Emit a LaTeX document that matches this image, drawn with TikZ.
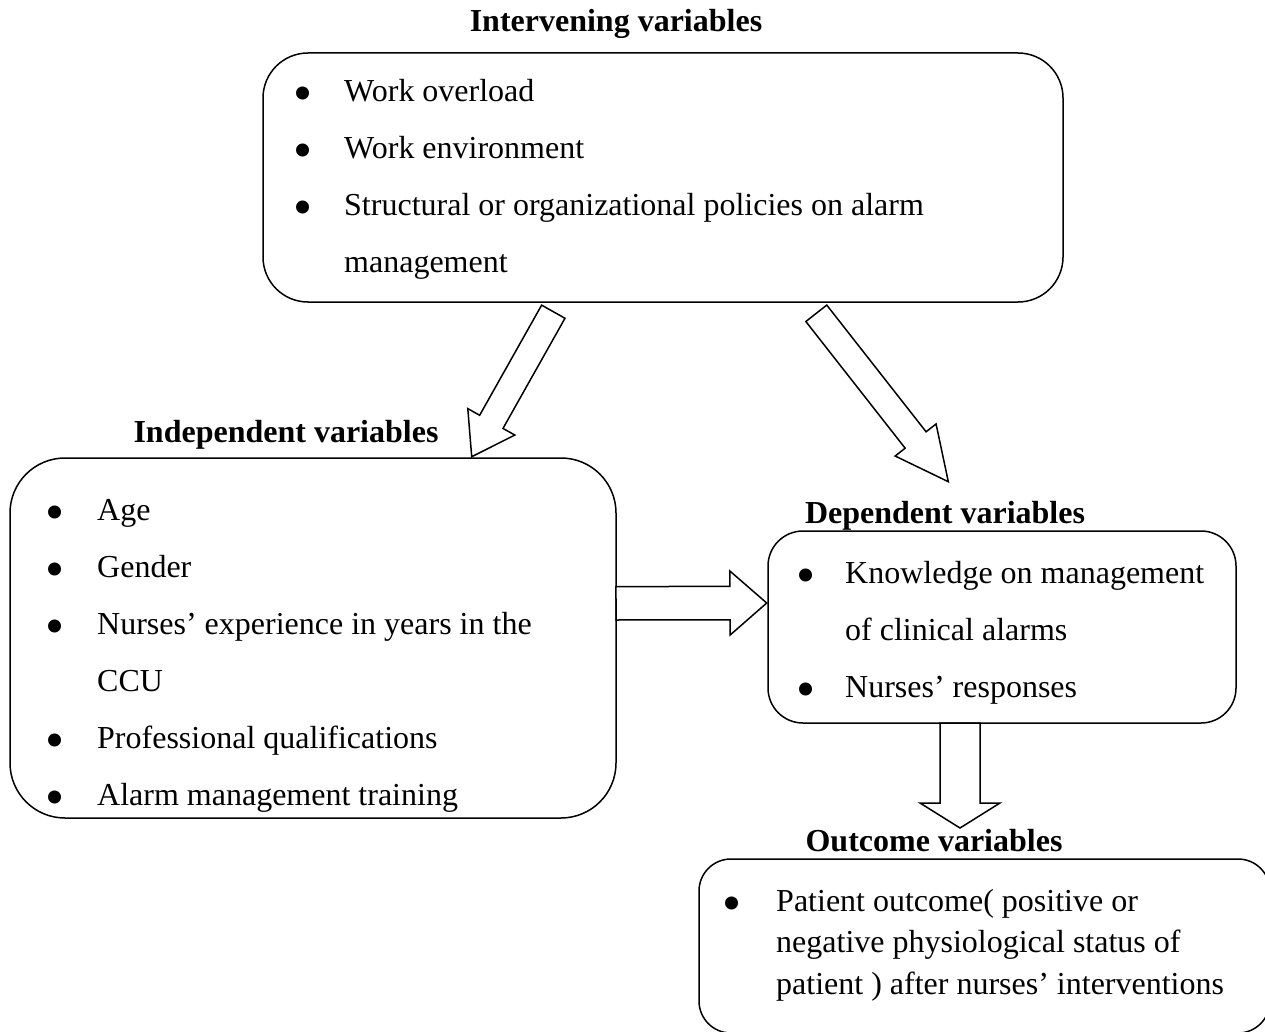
\documentclass[tikz,border=0pt]{standalone}
\usepackage{fontspec}
\setmainfont{Liberation Serif}
\usetikzlibrary{calc}

\tikzset{
  varbox/.style={draw, line width=1.5pt, rounded corners=#1, inner sep=0pt},
  vartitle/.style={font=\fontsize{32}{38}\selectfont\bfseries, anchor=base, inner sep=0pt},
  varlist/.style={font=\fontsize{32}{57}\selectfont, anchor=base west, inner sep=0pt},
  blockarrow/.style={draw, line width=1.5pt, fill=white, line join=miter}
}

\newcommand{\varitems}[2]{\begin{tabular}[t]{@{}p{#1}@{}l@{}}#2\end{tabular}}
\newcommand{\vbul}{\hspace*{5pt}\makebox[0pt]{\raisebox{-10pt}{\scalebox{1.7}{\textbullet}}}}

% hollow block arrow: from, tip, half shaft, half head, head length
\newcommand{\fatarrow}[5]{%
  \coordinate (hb) at ($(#2)!#5!(#1)$);
  \draw[blockarrow] ($(#1)!#3!90:(#2)$) -- ($(hb)!#3!90:(#2)$) -- ($(hb)!#4!90:(#2)$)
    -- (#2) -- ($(hb)!#4!-90:(#2)$) -- ($(hb)!#3!-90:(#2)$) -- ($(#1)!#3!-90:(#2)$) -- cycle;}

\begin{document}
\begin{tikzpicture}[x=1pt,y=-1pt]
\useasboundingbox (0,0) rectangle (1265,1032);

\node[varbox=45pt, minimum width=800pt, minimum height=249pt] (interbox) at (663,177.5) {};
\node[vartitle] (intertitle) at (616,32) {Intervening variables};
\node[varlist] (interlist) at (298,102) {\varitems{46pt}{
  \vbul & Work overload\\
  \vbul & Work environment\\
  \vbul & Structural or organizational policies on alarm\\
   & management}};

\node[varbox=55pt, minimum width=606pt, minimum height=360pt] (indepbox) at (313,638) {};
\node[vartitle] (indeptitle) at (286,442) {Independent variables};
\node[varlist] (indeplist) at (50,520) {\varitems{47pt}{
  \vbul & Age\\
  \vbul & Gender\\
  \vbul & Nurses' experience in years in the\\
   & CCU\\
  \vbul & Professional qualifications\\
  \vbul & Alarm management training}};

\node[varbox=35pt, minimum width=468pt, minimum height=192pt] (depbox) at (1002,627) {};
\node[vartitle] (deptitle) at (945,523) {Dependent variables};
\node[varlist] (deplist) at (801,583) {\varitems{44pt}{
  \vbul & Knowledge on management\\
   & of clinical alarms\\
  \vbul & Nurses' responses}};

\node[varbox=32pt, minimum width=571pt, minimum height=174pt] (outbox) at (984.5,946) {};
\node[vartitle] (outtitle) at (934,851) {Outcome variables};
\node[varlist, font=\fontsize{32}{41.5}\selectfont] (outlist) at (727,911) {\varitems{49pt}{
  \vbul & Patient outcome( positive or\\
   & negative physiological status of\\
   & patient ) after nurses' interventions}};

\coordinate (a1s) at (553.3,311.7);
\coordinate (a1t) at (471.7,456.7);
\coordinate (a2s) at (816.3,313.3);
\coordinate (a2t) at (948.3,481.7);
\coordinate (a3s) at (616,603.3);
\coordinate (a3t) at (766.7,603);
\coordinate (a4s) at (960,723);
\coordinate (a4t) at (960,828);

\fatarrow{a1s}{a1t}{13.4pt}{27pt}{40pt}
\fatarrow{a2s}{a2t}{13.3pt}{26pt}{53pt}
\fatarrow{a3s}{a3t}{16.7pt}{32pt}{36.7pt}
\fatarrow{a4s}{a4t}{20pt}{40pt}{25pt}

\end{tikzpicture}
\end{document}
